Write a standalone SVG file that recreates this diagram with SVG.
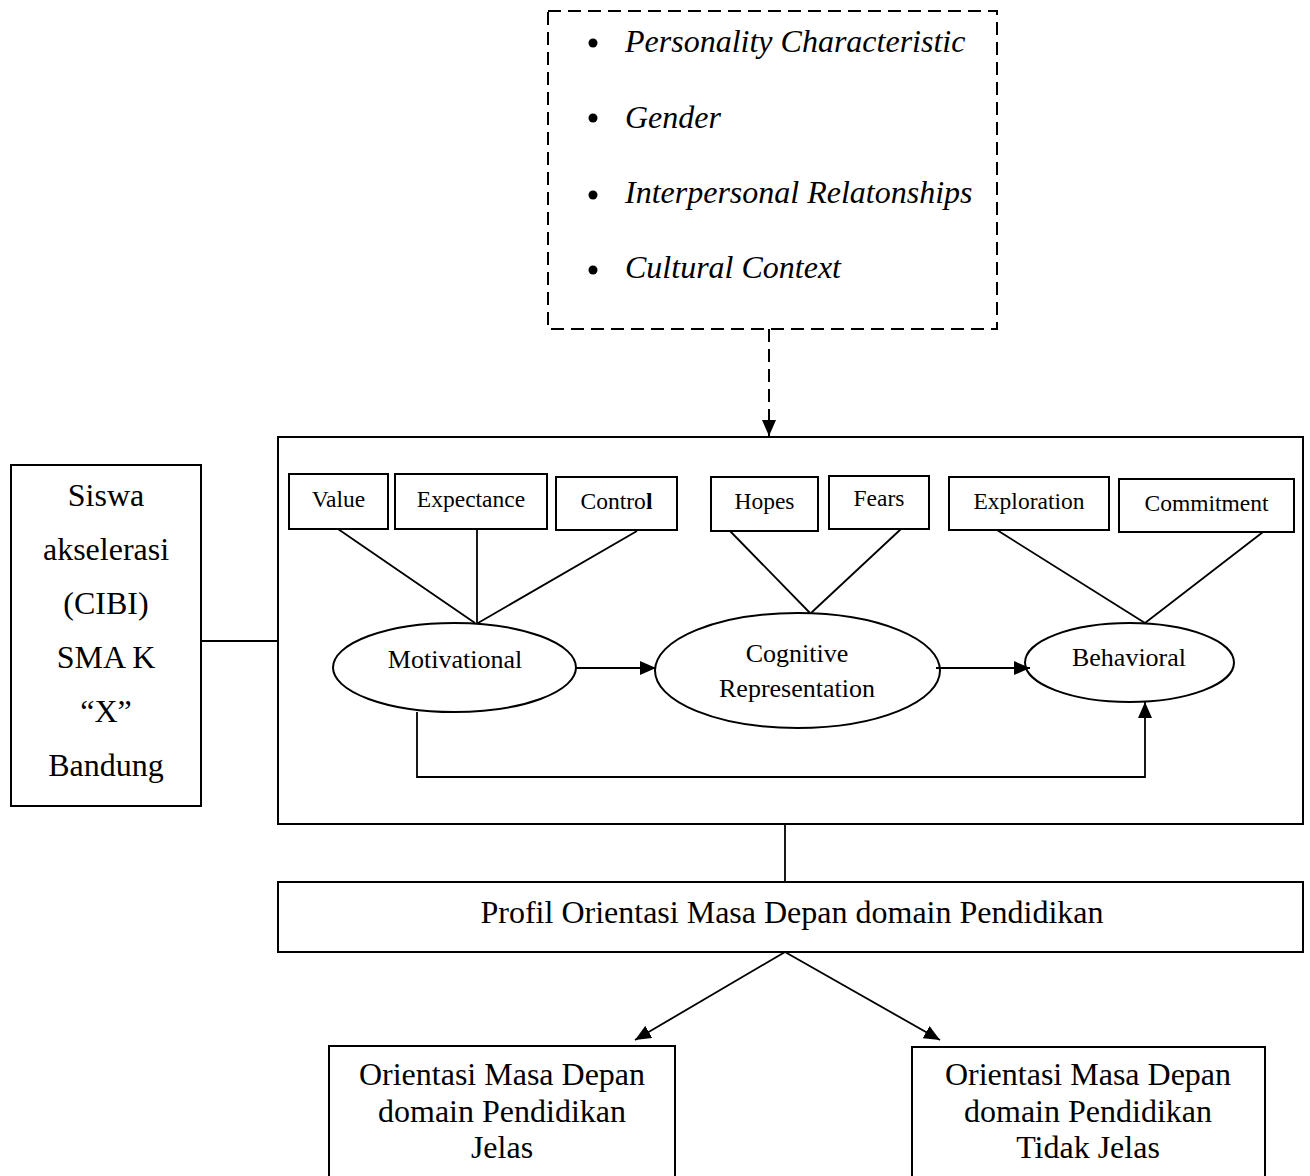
<svg xmlns="http://www.w3.org/2000/svg" width="1310" height="1176" viewBox="0 0 1310 1176">
<style>
  .box { fill: #ffffff; stroke: #000000; stroke-width: 2; }
  .ell { fill: #ffffff; stroke: #000000; stroke-width: 2; }
  .ln { fill: none; stroke: #000000; stroke-width: 1.8; }
  .dash { fill: none; stroke: #000000; stroke-width: 2; stroke-dasharray: 13 7; }
  .big { font-family: "Liberation Serif", "Times New Roman", serif; font-size: 32px; fill: #000000; }
  .it { font-family: "Liberation Serif", "Times New Roman", serif; font-size: 32px; font-style: italic; fill: #000000; }
  .sm { font-family: "Liberation Serif", "Times New Roman", serif; font-size: 23.5px; fill: #000000; text-anchor: middle; }
  .md { font-family: "Liberation Serif", "Times New Roman", serif; font-size: 26px; fill: #000000; text-anchor: middle; }
  .mid { text-anchor: middle; }
</style>
<defs>
  <marker id="ah" markerWidth="16" markerHeight="14" refX="16" refY="7" orient="auto" markerUnits="userSpaceOnUse">
    <path d="M0,0 L16,7 L0,14 z" fill="#000000"/>
  </marker>
</defs>
<rect width="1310" height="1176" fill="#ffffff"/>

<g id="factors">
  <rect x="548" y="11" width="449" height="318" class="dash"/>
  <circle cx="593" cy="43" r="4.5" fill="#000000"/>
  <circle cx="593" cy="118" r="4.5" fill="#000000"/>
  <circle cx="593" cy="195" r="4.5" fill="#000000"/>
  <circle cx="593" cy="270" r="4.5" fill="#000000"/>
  <text x="625" y="52" class="it">Personality Characteristic</text>
  <text x="625" y="128" class="it">Gender</text>
  <text x="625" y="203" class="it">Interpersonal Relatonships</text>
  <text x="625" y="278" class="it">Cultural Context</text>
</g>

<g id="siswa">
  <rect x="11" y="465" width="190" height="341" class="box"/>
  <text x="106" y="506" class="big mid">Siswa</text>
  <text x="106" y="560" class="big mid">akselerasi</text>
  <text x="106" y="614" class="big mid">(CIBI)</text>
  <text x="106" y="668" class="big mid">SMA K</text>
  <text x="106" y="722" class="big mid">“X”</text>
  <text x="106" y="776" class="big mid">Bandung</text>
</g>

<g id="model">
  <rect x="278" y="437" width="1025" height="387" class="box"/>
</g>

<g id="value">
  <rect x="289" y="474" width="99" height="55" class="box"/>
  <text x="338.5" y="507" class="sm">Value</text>
</g>
<g id="expectance">
  <rect x="395" y="474" width="152" height="55" class="box"/>
  <text x="471" y="507" class="sm">Expectance</text>
</g>
<g id="control">
  <rect x="556" y="477" width="121" height="53" class="box"/>
  <text x="616.5" y="509" class="sm">Contro<tspan font-weight="bold">l</tspan></text>
</g>
<g id="hopes">
  <rect x="711" y="477" width="107" height="54" class="box"/>
  <text x="764.5" y="509" class="sm">Hopes</text>
</g>
<g id="fears">
  <rect x="829" y="476" width="100" height="53" class="box"/>
  <text x="879" y="506" class="sm">Fears</text>
</g>
<g id="exploration">
  <rect x="949" y="477" width="160" height="53" class="box"/>
  <text x="1029" y="509" class="sm">Exploration</text>
</g>
<g id="commitment">
  <rect x="1119" y="479" width="175" height="53" class="box"/>
  <text x="1206.5" y="511" class="sm">Commitment</text>
</g>

<g id="motivational">
  <ellipse cx="454.5" cy="667.5" rx="121.5" ry="44.5" class="ell"/>
  <text x="455" y="668" class="md">Motivational</text>
</g>
<g id="cognitive">
  <ellipse cx="797.5" cy="670.5" rx="142.5" ry="57.5" class="ell"/>
  <text x="797" y="662" class="md">Cognitive</text>
  <text x="797" y="697" class="md">Representation</text>
</g>
<g id="behavioral">
  <ellipse cx="1129.5" cy="662.5" rx="104.5" ry="39.5" class="ell"/>
  <text x="1129" y="666" class="md">Behavioral</text>
</g>

<g id="profil">
  <rect x="278" y="882" width="1025" height="70" class="box"/>
  <text x="792" y="923" class="big mid">Profil Orientasi Masa Depan domain Pendidikan</text>
</g>

<g id="jelas">
  <rect x="329" y="1046" width="346" height="140" class="box"/>
  <text x="502" y="1085" class="big mid">Orientasi Masa Depan</text>
  <text x="502" y="1122" class="big mid">domain Pendidikan</text>
  <text x="502" y="1158" class="big mid">Jelas</text>
</g>
<g id="tidak-jelas">
  <rect x="912" y="1047" width="353" height="140" class="box"/>
  <text x="1088" y="1085" class="big mid">Orientasi Masa Depan</text>
  <text x="1088" y="1122" class="big mid">domain Pendidikan</text>
  <text x="1088" y="1158" class="big mid">Tidak Jelas</text>
</g>

<g id="connectors">
  <line x1="769" y1="329" x2="769" y2="436" class="dash" marker-end="url(#ah)"/>
  <line x1="201" y1="641" x2="278" y2="641" class="ln"/>
  <line x1="338" y1="529" x2="475" y2="623" class="ln"/>
  <line x1="477" y1="529" x2="477" y2="623" class="ln"/>
  <line x1="637" y1="531" x2="478" y2="623" class="ln"/>
  <line x1="730" y1="531" x2="810" y2="613" class="ln"/>
  <line x1="901" y1="529" x2="811" y2="613" class="ln"/>
  <line x1="997" y1="530" x2="1145" y2="623" class="ln"/>
  <line x1="1263" y1="532" x2="1145" y2="623" class="ln"/>
  <line x1="576" y1="668" x2="656" y2="668" class="ln" stroke-width="2.2" marker-end="url(#ah)"/>
  <line x1="936" y1="668" x2="1030" y2="668" class="ln" stroke-width="2.2" marker-end="url(#ah)"/>
  <polyline points="417,712 417,777 1145,777 1145,702" class="ln" stroke-width="2.2" marker-end="url(#ah)"/>
  <line x1="785" y1="824" x2="785" y2="882" class="ln"/>
  <line x1="785" y1="952" x2="635" y2="1040" class="ln" stroke-width="2.2" marker-end="url(#ah)"/>
  <line x1="785" y1="952" x2="940" y2="1040" class="ln" stroke-width="2.2" marker-end="url(#ah)"/>
</g>
</svg>
